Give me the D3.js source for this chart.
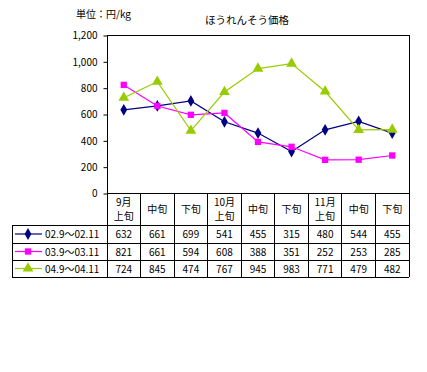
<!DOCTYPE html>
<html>
<head>
<meta charset="utf-8">
<script src="https://cdn.jsdelivr.net/npm/d3@7"></script>
<style>
  body { margin: 0; background: #fff; }
  text { font-family: "Noto Sans CJK JP", "DejaVu Sans", sans-serif; fill: #000; }
</style>
</head>
<body>
<div id="chart"></div>
<script>
"use strict";

// categories (two-line header labels)
var periods = [["9月", "上旬"], ["中旬"], ["下旬"], ["10月", "上旬"], ["中旬"], ["下旬"], ["11月", "上旬"], ["中旬"], ["下旬"]];
var seriesNames = ["02.9～02.11", "03.9～03.11", "04.9～04.11"];
var s2002 = [632, 661, 699, 541, 455, 315, 480, 544, 455];
var s2003 = [821, 661, 594, 608, 388, 351, 252, 253, 285];
var s2004 = [724, 845, 474, 767, 945, 983, 771, 479, 482];
var yTicks = [0, 200, 400, 600, 800, 1000, 1200];

var width = 427, height = 372;
var plotL = 107, plotR = 409, plotT = 35, plotB = 193;
var rowLines = [225, 243, 260, 277];
var legendLeft = 12;

var colors = ["#000080", "#ff00ff", "#99cc00"];
var shapes = [d3.symbolDiamond, d3.symbolSquare, d3.symbolTriangle];
var sizes = [40, 40, 50];
var allSeries = [s2002, s2003, s2004];

var svg = d3.select("#chart").append("svg")
  .attr("width", width)
  .attr("height", height);

var x = d3.scaleBand().domain(d3.range(periods.length)).range([plotL, plotR]);
var y = d3.scaleLinear().domain([0, 1200]).range([plotB, plotT]);

// titles
svg.append("text").attr("x", 76).attr("y", 18).attr("font-size", 10).text("単位：円/kg");
svg.append("text").attr("x", 205).attr("y", 24).attr("font-size", 10.5).text("ほうれんそう価格");

// plot frame
svg.append("rect")
  .attr("x", plotL + 0.5).attr("y", plotT + 0.5)
  .attr("width", plotR - plotL).attr("height", plotB - plotT)
  .attr("fill", "none").attr("stroke", "#000");

// y axis
var yAxis = svg.append("g")
  .attr("transform", "translate(" + (plotL + 0.5) + ",0.5)")
  .call(d3.axisLeft(y).tickValues(yTicks).tickSize(4).tickPadding(6).tickFormat(d3.format(",")));
yAxis.select(".domain").remove();
yAxis.selectAll("text").attr("font-size", 10).style("font-family", "'Noto Sans CJK JP', sans-serif");

// lines + markers
allSeries.forEach(function(vals, i) {
  var line = d3.line()
    .x(function(d, j) { return x(j) + x.bandwidth() / 2; })
    .y(function(d) { return y(d); });
  svg.append("path")
    .datum(vals)
    .attr("d", line)
    .attr("fill", "none")
    .attr("stroke", colors[i])
    .attr("stroke-width", 1.2);
  svg.selectAll(".m" + i)
    .data(vals)
    .enter()
    .append("path")
    .attr("class", "m" + i)
    .attr("transform", function(d, j) {
      return "translate(" + (x(j) + x.bandwidth() / 2) + "," + y(d) + ")";
    })
    .attr("d", d3.symbol().type(shapes[i]).size(sizes[i]))
    .attr("fill", colors[i]);
});

// data table
var tbl = svg.append("g").attr("stroke", "#000").attr("shape-rendering", "crispEdges");
// vertical column lines
x.domain().forEach(function(j) {
  tbl.append("line")
    .attr("x1", x(j)).attr("x2", x(j))
    .attr("y1", plotB).attr("y2", rowLines[3]);
});
tbl.append("line").attr("x1", plotR).attr("x2", plotR).attr("y1", plotB).attr("y2", rowLines[3]);
tbl.append("line").attr("x1", legendLeft).attr("x2", legendLeft).attr("y1", rowLines[0]).attr("y2", rowLines[3]);
rowLines.forEach(function(r) {
  tbl.append("line").attr("x1", legendLeft).attr("x2", plotR).attr("y1", r).attr("y2", r);
});

// header labels
periods.forEach(function(p, j) {
  var cx = x(j) + x.bandwidth() / 2;
  var t = svg.append("text").attr("font-size", 10).attr("text-anchor", "middle");
  if (p.length === 2) {
    t.append("tspan").attr("x", cx).attr("y", 206).text(p[0]);
    t.append("tspan").attr("x", cx).attr("y", 220).text(p[1]);
  } else {
    t.attr("x", cx).attr("y", 213).text(p[0]);
  }
});

// rows
allSeries.forEach(function(vals, i) {
  var cy = (rowLines[i] + rowLines[i + 1]) / 2;
  svg.append("line")
    .attr("x1", 15).attr("x2", 42)
    .attr("y1", cy).attr("y2", cy)
    .attr("stroke", colors[i]).attr("stroke-width", 1.2);
  svg.append("path")
    .attr("transform", "translate(28," + cy + ")")
    .attr("d", d3.symbol().type(shapes[i]).size(sizes[i]))
    .attr("fill", colors[i]);
  svg.append("text")
    .attr("x", 45).attr("y", cy + 4)
    .attr("font-size", 10)
    .text(seriesNames[i]);
  svg.selectAll(".v" + i)
    .data(vals)
    .enter()
    .append("text")
    .attr("x", function(d, j) { return x(j) + x.bandwidth() / 2; })
    .attr("y", cy + 4)
    .attr("font-size", 10)
    .attr("text-anchor", "middle")
    .text(function(d) { return d; });
});
</script>
</body>
</html>
